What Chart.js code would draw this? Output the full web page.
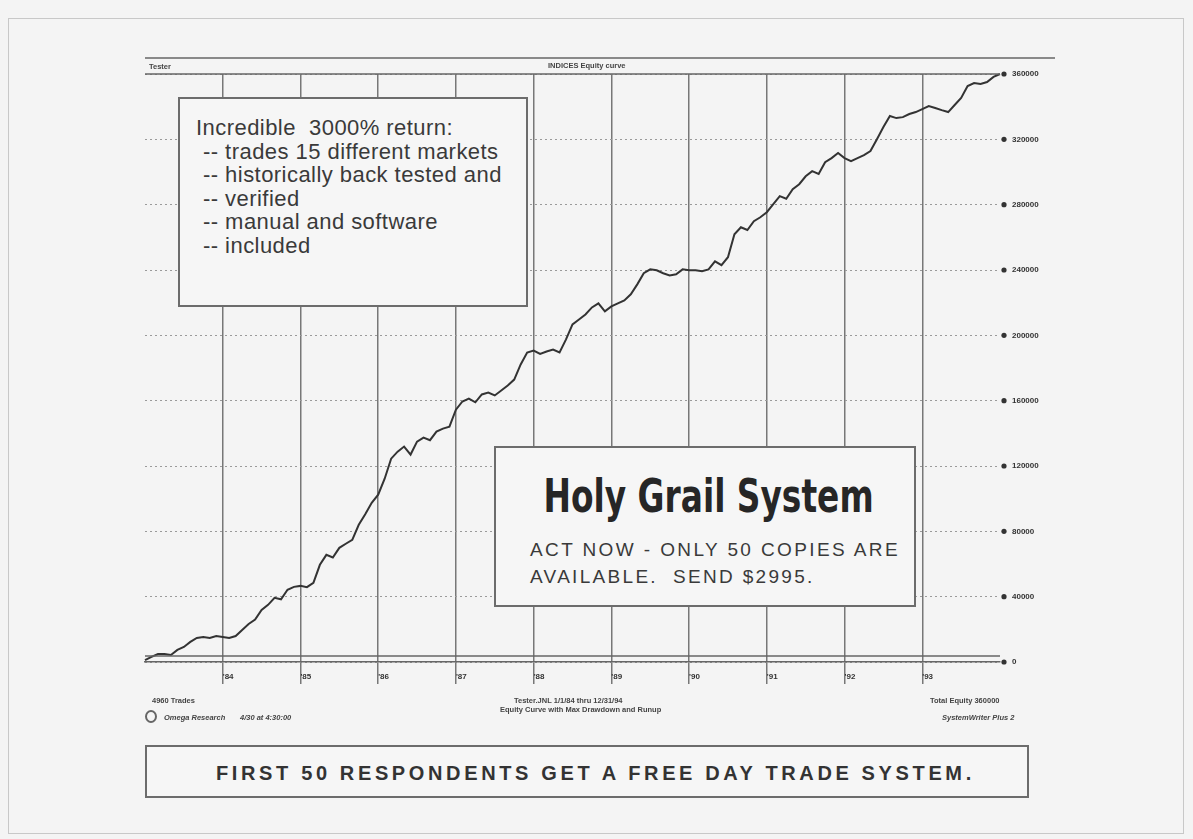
<!DOCTYPE html>
<html>
<head>
<meta charset="utf-8">
<script src="https://cdn.jsdelivr.net/npm/chart.js@4.4.1/dist/chart.umd.min.js"></script>
<style>
  html, body { margin: 0; padding: 0; background: #f4f4f4; }
  body { width: 1193px; height: 839px; position: relative; overflow: hidden;
         font-family: "Liberation Sans", Arial, sans-serif; color: #3a3a3a; }
  #frame { position: absolute; left: 8px; top: 18px; width: 1176px; height: 816px;
           border: 1px solid #c8c8c8; box-sizing: border-box; }
  #chart { position: absolute; left: 0; top: 0; }
  .box { position: absolute; border: 2px solid #6c6c6c; background: #f6f6f6; box-sizing: border-box; }
  .promo { left: 178px; top: 97px; width: 350px; height: 210px; padding: 17px 0 0 16px;
           font-size: 22px; line-height: 23.5px; letter-spacing: 0.45px; white-space: nowrap; }
  .promo div.item { padding-left: 7px; }
  .offer { left: 494px; top: 446px; width: 422px; height: 161px; }
  .offer .title { position: absolute; left: 0; right: 0; top: 24px; text-align: center; white-space: nowrap;
                  font-family: "Liberation Sans Narrow", "DejaVu Sans Condensed", sans-serif;
                  font-weight: bold; font-size: 47px; line-height: 47px; color: #262626; }
  .offer .title span { display: inline-block; }
  .offer .line { position: absolute; left: 34px; font-size: 19px; line-height: 20px; white-space: nowrap; }
  .footer { left: 145px; top: 745px; width: 884px; height: 53px; }
  .footer .line { position: absolute; left: 69px; top: 15px; font-size: 20px; font-weight: bold;
                  line-height: 22px; white-space: nowrap; color: #333; }
  .tiny { position: absolute; font-size: 7.5px; font-weight: bold; color: #444; white-space: nowrap; line-height: 9px; }
  .logo { position: absolute; left: 145px; top: 710px; width: 12px; height: 13px; border-radius: 50%;
          border: 2px solid #666; box-sizing: border-box; }
</style>
</head>
<body>
<div id="frame"></div>
<canvas id="chart" width="1193" height="839"></canvas>

<div class="tiny" style="left:149px; top:62px;">Tester</div>
<div class="tiny" style="left:548px; top:61px;">INDICES  Equity curve</div>

<div class="tiny" style="left:152px; top:696px;">4960 Trades</div>
<div class="logo"></div>
<div class="tiny" style="left:164px; top:713px; font-style:italic;">Omega Research</div>
<div class="tiny" style="left:240px; top:713px; font-style:italic;">4/30 at 4:30:00</div>
<div class="tiny" style="left:514px; top:696px;">Tester.JNL   1/1/84 thru 12/31/94</div>
<div class="tiny" style="left:500px; top:705px;">Equity Curve with   Max Drawdown and Runup</div>
<div class="tiny" style="left:930px; top:696px;">Total Equity   360000</div>
<div class="tiny" style="left:942px; top:713px; font-style:italic;">SystemWriter  Plus 2</div>

<div class="box promo">
  <div>Incredible&nbsp; 3000% return:</div>
  <div class="item">-- trades 15 different markets</div>
  <div class="item">-- historically back tested and</div>
  <div class="item">-- verified</div>
  <div class="item">-- manual and software</div>
  <div class="item">-- included</div>
</div>

<div class="box offer">
  <div class="title"><span id="grail">Holy Grail System</span></div>
  <div class="line fit" data-w="370" style="top:92px;">ACT NOW - ONLY 50 COPIES ARE</div>
  <div class="line fit" data-w="285" style="top:119px;">AVAILABLE.&nbsp; SEND $2995.</div>
</div>

<div class="box footer">
  <div class="line fit" data-w="759">FIRST 50 RESPONDENTS GET A FREE DAY TRADE SYSTEM.</div>
</div>

<script>
// year labels under the annual grid lines
const yearLabels = ["'84", "'85", "'86", "'87", "'88", "'89", "'90", "'91", "'92", "'93"];

// month-end equity, in thousands of dollars (Jan '83 .. Dec '93)
const equityK = [
  1.2, 3.1, 4.9, 4.9, 4.3, 7.4, 9.2, 12.3, 14.7, 15.3, 14.7, 15.9,
  15.3, 14.7, 15.9, 19.6, 23.3, 26.0, 31.9, 35.0, 39.3, 38.4, 44.2, 46.0,
  46.6, 45.8, 48.5, 59.5, 65.6, 64.0, 69.9, 72.4, 74.8, 84.0, 90.5, 97.5,
  102.4, 112.2, 124.5, 128.8, 131.9, 127.0, 134.9, 137.4, 135.8, 141.1, 142.9, 144.1,
  154.5, 159.5, 161.3, 159.0, 163.8, 165.0, 163.2, 166.2, 169.3, 172.9, 182.2, 189.5,
  190.7, 188.6, 190.1, 191.3, 189.5, 197.5, 206.7, 209.7, 212.8, 217.1, 219.6, 214.7,
  217.7, 219.6, 221.4, 225.1, 231.2, 238.0, 240.4, 239.8, 238.0, 236.7, 237.4, 240.4,
  239.8, 239.8, 239.2, 240.4, 245.3, 243.0, 247.8, 261.9, 266.2, 264.5, 269.9, 272.3,
  275.4, 280.3, 285.2, 283.6, 289.5, 292.5, 297.4, 300.5, 298.8, 306.0, 308.5, 311.6,
  308.5, 306.7, 308.5, 310.3, 312.8, 320.1, 327.5, 334.3, 333.0, 333.6, 335.5, 336.7,
  338.5, 340.4, 339.2, 337.9, 336.7, 341.0, 345.3, 352.6, 354.5, 353.9, 355.1, 358.2,
  360.0
];

// header band, doubled baseline and the end-of-line dots on the price scale
const frameLines = {
  id: 'frameLines',
  afterDraw(chart) {
    const { ctx, chartArea: a, scales: { y } } = chart;
    ctx.save();
    ctx.strokeStyle = '#666';
    ctx.lineWidth = 1.6;
    ctx.beginPath();
    ctx.moveTo(a.left, a.top - 16);
    ctx.lineTo(a.right + 55, a.top - 16);
    ctx.moveTo(a.left, a.top);
    ctx.lineTo(a.right, a.top);
    ctx.moveTo(a.left, a.bottom - 6);
    ctx.lineTo(a.right, a.bottom - 6);
    ctx.stroke();
    ctx.fillStyle = '#333';
    y.ticks.forEach(t => {
      const py = y.getPixelForValue(t.value);
      ctx.beginPath();
      ctx.arc(a.right + 4, py, 2.6, 0, Math.PI * 2);
      ctx.fill();
    });
    ctx.restore();
  }
};

new Chart(document.getElementById('chart'), {
  type: 'line',
  data: {
    datasets: [{
      data: equityK.map((v, i) => ({ x: i, y: v })),
      borderColor: '#333',
      borderWidth: 2,
      pointRadius: 0,
      tension: 0,
      clip: false
    }]
  },
  options: {
    responsive: false,
    animation: false,
    layout: { padding: { left: 145, top: 74, right: 133, bottom: 147 } },
    plugins: { legend: { display: false }, tooltip: { enabled: false } },
    scales: {
      x: {
        type: 'linear',
        min: 0,
        max: 132,
        afterFit: s => { s.height = 30; },
        ticks: {
          stepSize: 12,
          align: 'start',
          padding: -12,
          color: '#333',
          font: { family: 'Liberation Sans', size: 8, weight: 'bold' },
          callback: v => yearLabels[v / 12 - 1] || ''
        },
        grid: {
          color: c => (c.tick && (c.tick.value === 0 || c.tick.value === 132)) ? 'rgba(0,0,0,0)' : '#777',
          lineWidth: 1.5,
          tickLength: 22
        },
        border: { display: true, color: '#666', width: 1.6 }
      },
      y: {
        position: 'right',
        min: 0,
        max: 360,
        afterFit: s => { s.width = 60; },
        ticks: {
          stepSize: 40,
          padding: 12,
          color: '#333',
          font: { family: 'Liberation Sans', size: 8, weight: 'bold' },
          callback: v => String(v * 1000)
        },
        grid: { color: '#9a9a9a', lineWidth: 1, drawTicks: false },
        border: { display: false, dash: [2, 3] }
      }
    }
  },
  plugins: [frameLines]
});

// stretch the headline and spread the sign lines to their set widths
const grail = document.getElementById('grail');
grail.style.transform = 'scaleX(' + (330 / grail.offsetWidth) + ')';
document.querySelectorAll('.fit').forEach(el => {
  const target = +el.dataset.w;
  const n = el.textContent.length;
  el.style.letterSpacing = ((target - el.offsetWidth) / n) + 'px';
});
</script>
</body>
</html>
